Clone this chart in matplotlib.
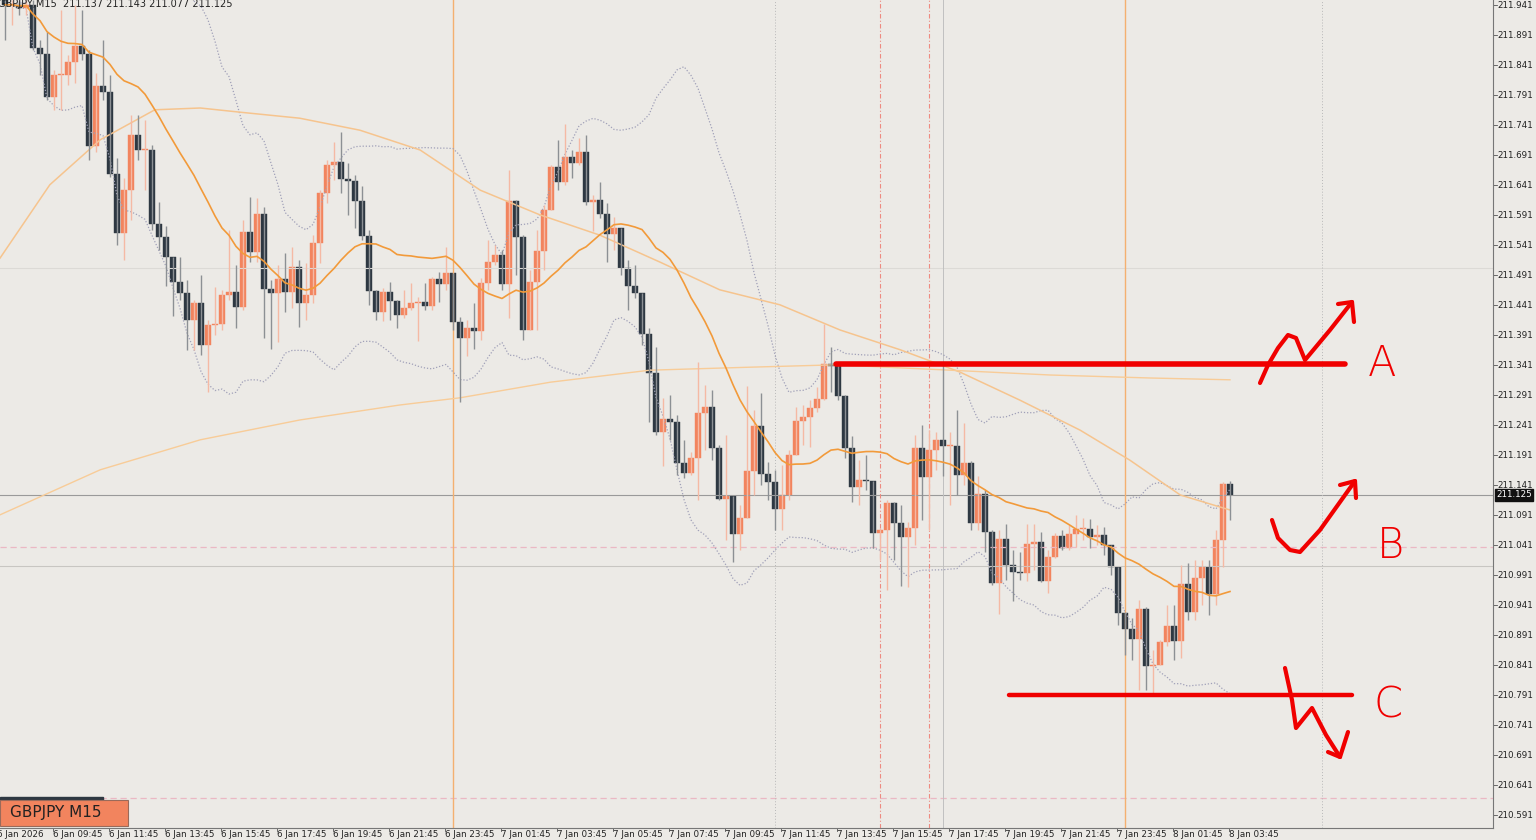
import matplotlib
matplotlib.use("Agg")
import matplotlib.pyplot as plt
import numpy as np
import pandas as pd

close = [211.942,211.942,211.937,211.942,211.870,211.860,211.788,211.825,211.825,211.847,
211.873,211.860,211.707,211.807,211.797,211.660,211.562,211.633,211.725,211.700,
211.700,211.577,211.555,211.522,211.480,211.462,211.417,211.445,211.375,211.408,
211.410,211.458,211.463,211.438,211.563,211.530,211.593,211.468,211.462,211.485,
211.463,211.505,211.445,211.458,211.545,211.628,211.675,211.680,211.652,211.648,
211.615,211.557,211.465,211.430,211.463,211.448,211.425,211.437,211.445,211.447,
211.440,211.485,211.477,211.495,211.413,211.387,211.403,211.398,211.478,211.513,
211.525,211.477,211.615,211.555,211.400,211.480,211.532,211.600,211.672,211.647,
211.688,211.678,211.697,211.613,211.617,211.593,211.560,211.570,211.503,211.473,
211.462,211.393,211.328,211.230,211.252,211.247,211.178,211.162,211.187,211.262,
211.272,211.203,211.118,211.123,211.060,211.087,211.165,211.240,211.160,211.147,
211.102,211.125,211.192,211.248,211.255,211.270,211.285,211.343,211.340,211.290,
211.203,211.138,211.150,211.148,211.062,211.067,211.112,211.078,211.055,211.070,
211.203,211.155,211.200,211.217,211.207,211.207,211.158,211.178,211.078,211.127,
211.063,210.978,211.052,211.008,210.997,210.995,211.043,211.047,210.982,211.022,
211.057,211.037,211.060,211.068,211.068,211.055,211.058,211.042,211.005,210.928,
210.902,210.885,210.935,210.840,210.842,210.880,210.907,210.882,210.977,210.930,
210.987,211.005,210.960,211.050,211.143,211.125]

high = [211.950,211.950,211.950,211.950,211.950,211.883,211.897,211.833,211.933,211.858,
211.942,211.933,211.867,211.828,211.883,211.825,211.687,211.653,211.758,211.758,
211.750,211.708,211.613,211.573,211.522,211.522,211.483,211.450,211.492,211.417,
211.472,211.467,211.567,211.508,211.583,211.622,211.620,211.605,211.483,211.508,
211.528,211.538,211.517,211.512,211.558,211.633,211.683,211.713,211.730,211.678,
211.658,211.640,211.567,211.467,211.470,211.480,211.450,211.467,211.478,211.455,
211.478,211.488,211.497,211.538,211.433,211.422,211.417,211.445,211.487,211.550,
211.542,211.533,211.667,211.617,211.558,211.500,211.567,211.608,211.675,211.717,
211.743,211.700,211.720,211.725,211.625,211.647,211.612,211.588,211.567,211.517,
211.508,211.462,211.403,211.372,211.287,211.292,211.258,211.217,211.197,211.347,
211.308,211.300,211.208,211.225,211.122,211.108,211.307,211.267,211.295,211.180,
211.167,211.175,211.200,211.272,211.275,211.283,211.305,211.410,211.372,211.347,
211.292,211.223,211.183,211.192,211.145,211.070,211.117,211.113,211.108,211.080,
211.225,211.242,211.233,211.230,211.342,211.230,211.267,211.245,211.182,211.157,
211.133,211.067,211.067,211.077,211.033,211.030,211.077,211.077,211.063,211.033,
211.062,211.067,211.075,211.092,211.087,211.085,211.075,211.072,211.042,211.000,
210.930,210.920,210.950,210.938,210.867,210.883,210.942,210.942,211.008,211.012,
211.017,211.017,211.017,211.067,211.147,211.148]

low = [211.883,211.908,211.925,211.925,211.867,211.825,211.783,211.767,211.767,211.808,
211.812,211.850,211.683,211.697,211.783,211.655,211.542,211.517,211.583,211.683,
211.633,211.567,211.533,211.473,211.423,211.450,211.367,211.367,211.358,211.297,
211.392,211.400,211.450,211.403,211.433,211.513,211.513,211.387,211.368,211.380,
211.430,211.437,211.405,211.417,211.445,211.512,211.612,211.650,211.628,211.592,
211.570,211.550,211.442,211.417,211.415,211.417,211.403,211.420,211.433,211.382,
211.433,211.433,211.447,211.467,211.400,211.280,211.357,211.368,211.383,211.467,
211.508,211.467,211.420,211.492,211.383,211.400,211.400,211.500,211.600,211.633,
211.642,211.653,211.675,211.608,211.565,211.587,211.513,211.533,211.492,211.433,
211.453,211.375,211.247,211.225,211.173,211.217,211.158,211.153,211.158,211.117,
211.200,211.183,211.117,211.050,211.013,211.033,211.092,211.125,211.142,211.117,
211.067,211.067,211.117,211.200,211.208,211.205,211.263,211.283,211.297,211.283,
211.187,211.113,211.108,211.133,211.037,211.017,210.967,211.017,210.973,210.972,
211.042,211.083,211.067,211.167,211.157,211.108,211.125,211.142,211.067,211.067,
211.030,210.975,210.927,210.983,210.948,210.983,210.982,211.000,210.980,210.962,
211.020,211.033,211.033,211.038,211.050,211.037,211.042,211.025,210.992,210.908,
210.858,210.850,210.800,210.800,210.795,210.842,210.873,210.850,210.853,210.917,
210.917,210.942,210.925,210.942,211.005,211.083]

ma100_x = [-0.7,6.4,13.6,21.4,27.9,33.6,42.1,50.7,59.3,67.9,76.4,85,93.6,102.1,110.7,119.3,127.9,136.4,145,153.6,160.7,167.9,175]
ma100_y = [211.520,211.642,211.717,211.767,211.770,211.763,211.753,211.733,211.700,211.633,211.592,211.558,211.513,211.467,211.442,211.400,211.367,211.330,211.283,211.233,211.183,211.125,211.100]
ma200_x = [-0.7,13.6,27.9,42.1,56.4,65,77.9,92.1,106.4,118.7,135,149.3,163.6,175]
ma200_y = [211.092,211.167,211.217,211.250,211.275,211.287,211.313,211.333,211.338,211.342,211.333,211.325,211.320,211.317]

tick_labels = ["6 Jan 2026","6 Jan 09:45","6 Jan 11:45","6 Jan 13:45","6 Jan 15:45","6 Jan 17:45",
"6 Jan 19:45","6 Jan 21:45","6 Jan 23:45","7 Jan 01:45","7 Jan 03:45","7 Jan 05:45","7 Jan 07:45",
"7 Jan 09:45","7 Jan 11:45","7 Jan 13:45","7 Jan 15:45","7 Jan 17:45","7 Jan 19:45","7 Jan 21:45",
"7 Jan 23:45","8 Jan 01:45","8 Jan 03:45"]
price_ticks = [211.941 - 0.05*k for k in range(28)]
level_A = 211.343
level_C = 210.792
last_price = 211.125

BG = "#ECEAE6"
BULL = "#F2845E"; BEAR = "#2E3842"
close = np.array(close); high = np.array(high); low = np.array(low)
n = len(close)
opn = np.concatenate([[211.950], close[:-1]])
high = np.maximum(high, np.maximum(opn, close))
low = np.minimum(low, np.minimum(opn, close))
idx = np.arange(n)

fig = plt.figure(figsize=(15.36, 8.4), dpi=100, facecolor=BG)
ax = fig.add_axes([0, 12/840, 1493/1536, 828/840])
ax.set_facecolor(BG)
ax.set_xlim(-5/7, (1493-5)/7)
ax.set_ylim(211.95 - 828/600, 211.95)

ax.axhline(211.503, color="#DCDAD6", lw=0.8)
ax.axhline(211.007, color="#C8C6C2", lw=0.8)
ax.axhline(211.038, color="#EBB8C4", lw=0.9, ls=(0, (5, 3)))
ax.axhline(210.62, color="#EBB8C4", lw=0.9, ls=(0, (5, 3)))
ax.axhline(last_price, color="#9A9A9A", lw=0.8)
for xv in (64, 160):
    ax.axvline(xv, color="#F4B070", lw=1)
for xv in (110, 188.1):
    ax.axvline(xv, color="#B8B8B8", lw=0.7, ls=(0, (1, 2)))
for xv in (125, 132):
    ax.axvline(xv, color="#EE8A80", lw=0.8, ls=(0, (4, 2, 1, 2)))
ax.axvline(134, color="#C0C0C0", lw=0.7)

s = pd.Series(close)
ma20 = s.rolling(20, min_periods=1).mean()
sd = s.rolling(20, min_periods=2).std(ddof=0).bfill()
ax.plot(idx, ma20 + 2*sd, color="#A0A0B8", lw=0.9, ls=(0, (1, 1.5)))
ax.plot(idx, ma20 - 2*sd, color="#A0A0B8", lw=0.9, ls=(0, (1, 1.5)))
ax.plot(ma100_x, ma100_y, color="#F6C48E", lw=1.1)
ax.plot(ma200_x, ma200_y, color="#F8CC98", lw=1.0)

bull = close >= opn
ax.vlines(idx[bull], low[bull], high[bull], color="#F5B9A4", lw=1)
ax.vlines(idx[~bull], low[~bull], high[~bull], color="#8C9094", lw=1)
body = np.maximum(np.abs(close - opn), 0.002)
ax.bar(idx[bull], body[bull], bottom=np.minimum(opn, close)[bull], width=0.74, color=BULL, edgecolor=BULL, lw=0.3)
ax.bar(idx[~bull], body[~bull], bottom=np.minimum(opn, close)[~bull], width=0.74, color=BEAR, edgecolor=BEAR, lw=0.3)
ax.plot(idx, ma20, color="#F29A3A", lw=1.2)

ax.plot([118.7, 191.4], [level_A, level_A], color="#F00000", lw=4, solid_capstyle="round")
ax.plot([143.4, 192.4], [level_C, level_C], color="#F00000", lw=3.2, solid_capstyle="round")

ax.set_xticks([]); ax.set_yticks([])
for sp in ax.spines.values():
    sp.set_visible(False)
ax.spines["right"].set_visible(True); ax.spines["right"].set_color("#777")
ax.spines["bottom"].set_visible(True); ax.spines["bottom"].set_color("#777")

for p in price_ticks:
    if p < 210.58: continue
    ax.text(1.003, p, f"{p:.3f}", transform=ax.get_yaxis_transform(), fontsize=6.3, va="center", ha="left", color="#222")
    ax.plot([1.0, 1.003], [p, p], transform=ax.get_yaxis_transform(), color="#555", lw=0.6, clip_on=False)
ax.text(1.002, last_price, f"{last_price:.3f}", transform=ax.get_yaxis_transform(), fontsize=6.3, va="center", ha="left",
        color="white", bbox=dict(boxstyle="square,pad=0.15", fc="#111", ec="#111"))

for k, lab in enumerate(tick_labels):
    xv = 8*k - 8/7
    ax.text(xv, -0.002, lab, transform=ax.get_xaxis_transform(), fontsize=6.3, va="top", ha="left", color="#222")
    ax.plot([xv, xv], [0, -0.004], transform=ax.get_xaxis_transform(), color="#555", lw=0.6, clip_on=False)

ov = fig.add_axes([0, 0, 1, 1]); ov.set_xlim(0, 1536); ov.set_ylim(840, 0); ov.axis("off")
ov.patch.set_alpha(0)
ov.text(-2, 4, "GBPJPY,M15  211.137 211.143 211.077 211.125", fontsize=7, va="center", ha="left", color="#222")
ov.add_patch(plt.Rectangle((0, 797), 103, 5, color="#2E3842"))
ov.add_patch(plt.Rectangle((0, 800), 128, 26, fc="#F2845E", ec="#9A6A5A", lw=0.8))
ov.text(10, 813, "GBPJPY M15", fontsize=11, va="center", ha="left", color="#222")

R = "#F00000"
def stroke(pts, lw=3):
    xs, ys = zip(*pts); ov.plot(xs, ys, color=R, lw=lw, solid_capstyle="round", solid_joinstyle="round")
stroke([(1260,383),(1268,365),(1278,348),(1288,335),(1296,338),(1305,360),(1330,330),(1352,302)])
stroke([(1338,304),(1352,302),(1354,322)])
stroke([(1272,520),(1278,538),(1290,550),(1300,552),(1320,530),(1355,481)])
stroke([(1340,485),(1355,481),(1356,498)])
stroke([(1285,668),(1292,700),(1296,728),(1312,708),(1326,735),(1340,757)])
stroke([(1328,752),(1340,757),(1348,732)])
for lab, (lx, ly) in zip("ABC", [(1382, 364), (1390, 545), (1388, 705)]):
    ov.text(lx, ly, lab, fontsize=30, color=R, va="center", ha="center", family="DejaVu Sans", fontweight="light")

fig.savefig("out.png", dpi=100, facecolor=BG)
